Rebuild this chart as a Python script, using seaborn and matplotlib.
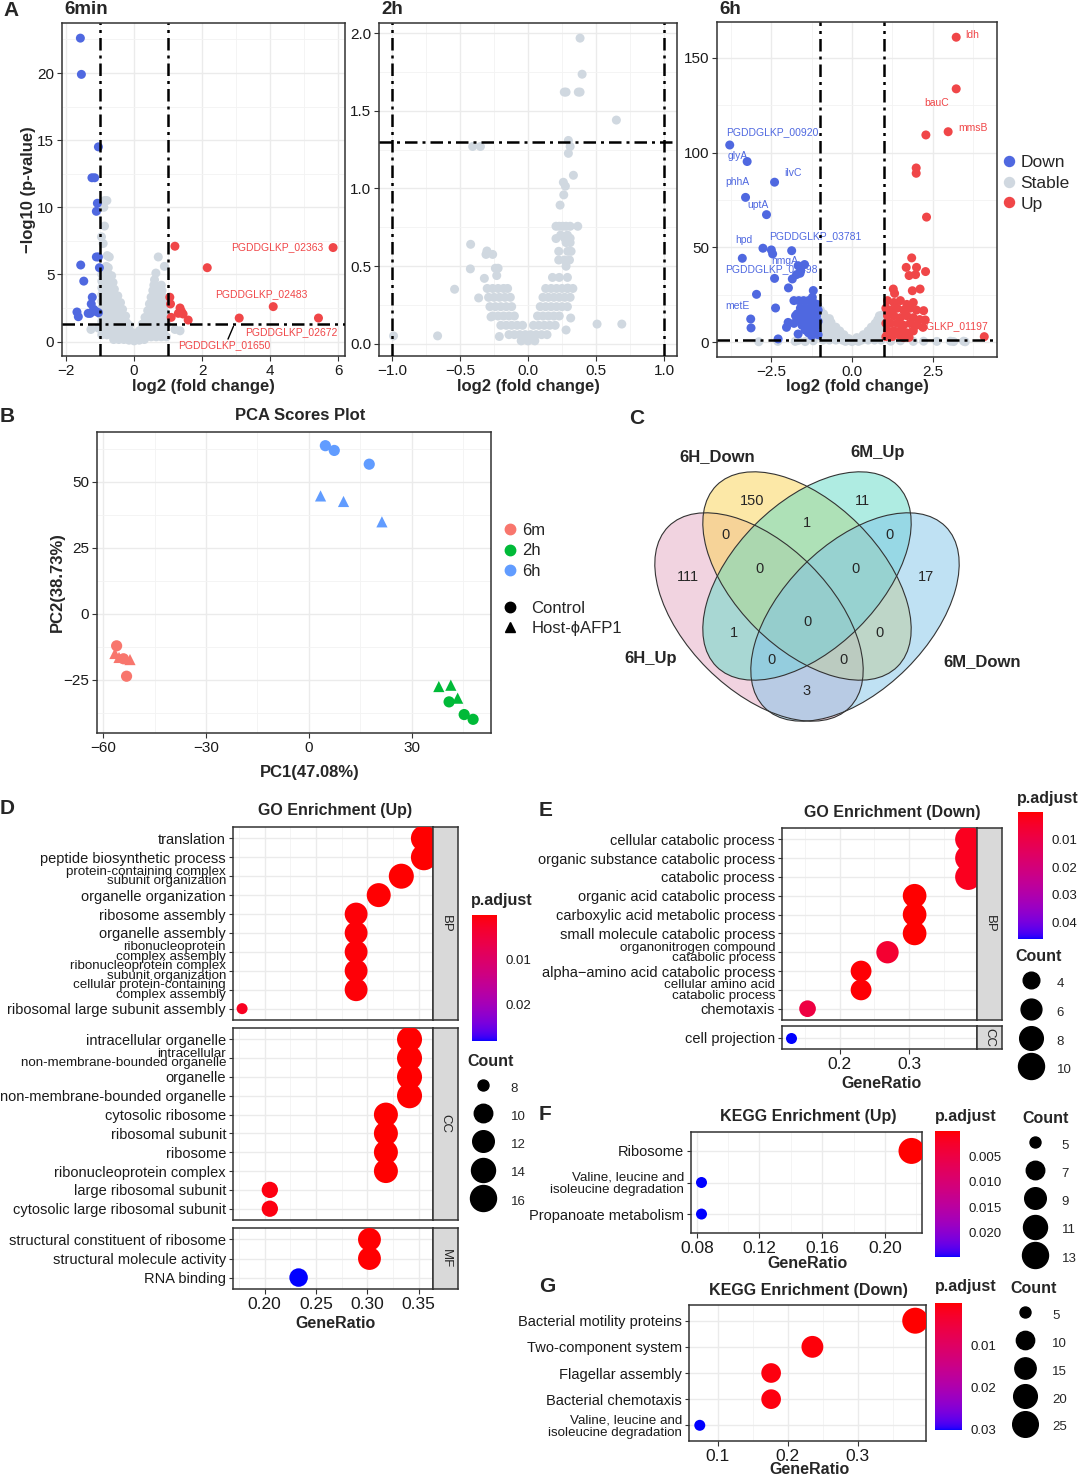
import numpy as np
import pandas as pd
import matplotlib
matplotlib.use("Agg")
import matplotlib.pyplot as plt
from matplotlib.colors import ListedColormap, Normalize
from matplotlib.cm import ScalarMappable
from matplotlib.lines import Line2D
from matplotlib.patches import Ellipse
from matplotlib.ticker import FuncFormatter, MultipleLocator
import seaborn as sns

W, H = 1080, 1477

# ---------------- A: volcano points (log2 fold change, -log10 p) ----------------
min6_down = [(-1.58, 22.6), (-1.55, 19.9), (-1.05, 14.5), (-1.24, 12.2), (-1.16, 12.2),
             (-1.08, 10.3), (-1.11, 9.7), (-1.11, 6.3), (-1.05, 6.3), (-1.57, 5.7),
             (-1.02, 5.5), (-1.48, 4.5), (-1.23, 3.3), (-1.26, 2.8), (-1.19, 2.4),
             (-1.13, 2.25), (-1.68, 2.2), (-1.64, 1.85), (-1.35, 2.1), (-1.29, 2.1),
             (-1.05, 2.15)]
min6_up = [(1.20, 7.1), (2.15, 5.5), (5.85, 7.0), (1.05, 3.3), (1.07, 2.8), (1.35, 2.5),
           (1.39, 2.25), (1.30, 2.1), (1.44, 2.05), (1.09, 1.8), (1.59, 1.6), (3.09, 1.75),
           (4.09, 2.6), (5.42, 1.75)]
min6_stable = [
    (-0.87, 10.5), (-0.80, 10.5), (-0.89, 10.0), (-0.87, 8.6), (-0.96, 7.8), (-0.91, 7.3),
    (-0.79, 6.4), (-0.73, 6.3), (-0.82, 5.6), (-0.76, 5.5),
    (-0.95, 5.0), (-0.85, 5.0), (-0.75, 5.0), (-0.66, 4.9),
    (-0.95, 4.5), (-0.85, 4.5), (-0.75, 4.5), (-0.62, 4.4),
    (-0.95, 4.0), (-0.85, 4.0), (-0.72, 4.0), (-0.58, 3.9),
    (-0.95, 3.5), (-0.85, 3.5), (-0.75, 3.5), (-0.62, 3.5), (-0.48, 3.4),
    (-0.95, 3.0), (-0.85, 3.0), (-0.75, 3.0), (-0.62, 3.0), (-0.50, 3.0), (-0.40, 2.9),
    (-0.95, 2.5), (-0.82, 2.5), (-0.70, 2.5), (-0.58, 2.5), (-0.46, 2.5), (-0.34, 2.4),
    (-0.98, 2.0), (-0.85, 2.0), (-0.72, 2.0), (-0.60, 2.0), (-0.48, 2.0), (-0.36, 2.0), (-0.25, 1.9),
    (-0.95, 1.5), (-0.82, 1.5), (-0.70, 1.5), (-0.58, 1.5), (-0.46, 1.5), (-0.34, 1.5),
    (-0.22, 1.4), (-0.14, 1.2),
    (-1.27, 0.9), (-1.05, 1.0), (-0.92, 1.0), (-0.80, 1.0), (-0.68, 1.0), (-0.55, 1.0),
    (-0.42, 1.0), (-0.30, 1.0), (-0.18, 0.9), (-0.08, 0.7),
    (-0.95, 0.5), (-0.80, 0.5), (-0.65, 0.5), (-0.50, 0.5), (-0.36, 0.5), (-0.22, 0.45),
    (-0.10, 0.35), (-0.03, 0.15),
    (-0.60, 0.15), (-0.45, 0.15), (-0.30, 0.15), (-0.15, 0.1), (0.0, 0.05), (0.15, 0.1), (0.30, 0.15),
    (0.71, 6.3), (0.89, 5.6), (0.64, 5.1), (0.60, 4.6), (0.58, 4.2), (0.80, 4.2),
    (0.55, 3.8), (0.68, 3.8), (0.82, 3.8),
    (0.50, 3.3), (0.62, 3.3), (0.74, 3.3), (0.86, 3.3),
    (0.45, 2.8), (0.57, 2.8), (0.69, 2.8), (0.81, 2.8), (0.93, 2.8),
    (0.40, 2.3), (0.52, 2.3), (0.64, 2.3), (0.76, 2.3), (0.88, 2.3),
    (0.32, 1.8), (0.44, 1.8), (0.56, 1.8), (0.68, 1.8), (0.80, 1.8), (0.92, 1.8),
    (0.24, 1.3), (0.36, 1.3), (0.48, 1.3), (0.60, 1.3), (0.72, 1.3), (0.84, 1.3), (0.96, 1.3),
    (0.15, 0.8), (0.27, 0.8), (0.39, 0.8), (0.51, 0.8), (0.63, 0.8), (0.75, 0.8), (0.87, 0.8),
    (1.20, 0.9), (1.35, 0.8),
    (0.08, 0.35), (0.20, 0.35), (0.35, 0.35), (0.50, 0.35), (0.65, 0.35), (0.80, 0.35), (0.95, 0.35)]

h2_stable = [
    (0.383, 1.967), (0.398, 1.735), (0.267, 1.62), (0.28, 1.62), (0.37, 1.62), (0.383, 1.62),
    (0.65, 1.44), (0.297, 1.309), (-0.407, 1.27), (-0.35, 1.27), (0.31, 1.27), (0.297, 1.226),
    (0.334, 1.085), (0.26, 1.04), (0.275, 1.015), (0.263, 0.959), (0.236, 0.893),
    (0.206, 0.757), (0.23, 0.757), (0.255, 0.757), (0.28, 0.757), (0.31, 0.757), (0.366, 0.757),
    (0.24, 0.70), (0.29, 0.70), (0.27, 0.68), (0.31, 0.68), (0.206, 0.678), (0.28, 0.652),
    (0.31, 0.652), (0.226, 0.596), (0.292, 0.596), (0.317, 0.596), (0.226, 0.54), (0.268, 0.54),
    (0.305, 0.54), (0.28, 0.50), (0.18, 0.428), (0.23, 0.428), (0.29, 0.428), (0.292, 0.359),
    (0.314, 0.167), (0.28, 0.09), (0.508, 0.128), (0.69, 0.128),
    (-0.422, 0.641), (-0.302, 0.598), (-0.309, 0.576), (-0.26, 0.576), (-0.424, 0.483),
    (-0.24, 0.487), (-0.22, 0.487), (-0.23, 0.44), (-0.321, 0.422), (-0.54, 0.352),
    (-0.363, 0.296), (-0.272, 0.174), (-0.211, 0.048), (-0.665, 0.052), (-0.989, 0.052),
    (0.13, 0.357), (0.17, 0.357), (0.21, 0.357), (0.25, 0.357), (0.29, 0.357), (0.33, 0.357),
    (-0.30, 0.357), (-0.26, 0.357), (-0.22, 0.357), (-0.18, 0.357), (-0.15, 0.357),
    (-0.29, 0.30), (-0.25, 0.30), (-0.21, 0.30), (-0.17, 0.30), (-0.13, 0.30),
    (0.11, 0.30), (0.15, 0.30), (0.19, 0.30), (0.23, 0.30), (0.27, 0.30), (0.31, 0.30),
    (-0.28, 0.24), (-0.24, 0.24), (-0.20, 0.24), (-0.16, 0.24), (-0.12, 0.24),
    (0.09, 0.24), (0.13, 0.24), (0.17, 0.24), (0.21, 0.24), (0.25, 0.24), (0.29, 0.24),
    (-0.26, 0.18), (-0.22, 0.18), (-0.18, 0.18), (-0.14, 0.18), (-0.10, 0.18),
    (0.07, 0.18), (0.11, 0.18), (0.15, 0.18), (0.19, 0.18), (0.23, 0.18),
    (-0.20, 0.12), (-0.16, 0.12), (-0.12, 0.12), (-0.08, 0.12), (-0.04, 0.12),
    (0.04, 0.12), (0.08, 0.12), (0.12, 0.12), (0.16, 0.12), (0.20, 0.12),
    (-0.14, 0.06), (-0.10, 0.06), (-0.06, 0.06), (-0.02, 0.06), (0.02, 0.06), (0.06, 0.06),
    (0.10, 0.06), (0.14, 0.06), (-0.05, 0.02), (0.0, 0.02), (0.05, 0.02)]

h6_down = [(-3.79, 104), (-3.25, 95.3), (-2.40, 84.4), (-3.30, 76.4), (-2.65, 67.3),
           (-2.76, 49.6), (-3.40, 44.3), (-2.50, 48.7), (-2.46, 46.6), (-1.87, 48.3),
           (-2.40, 33.7), (-2.96, 25.3), (-2.37, 18.1), (-3.14, 12.3), (-3.13, 7.6),
           (-2.29, 1.8), (-1.67, 40.4), (-1.47, 41.0), (-1.59, 37.8), (-1.72, 35.7),
           (-1.85, 33.4), (-1.61, 36.4), (-1.97, 28.7), (-1.20, 27.3), (-1.23, 23.7),
           (-1.98, 10.5), (-2.03, 7.9), (-1.67, 4.4), (-1.35, 5.0), (-1.80, 22.0),
           (-1.75, 14.0), (-1.80, 10.0),
           (-1.65, 22), (-1.50, 22), (-1.35, 22), (-1.20, 21), (-1.08, 20),
           (-1.60, 18), (-1.45, 18), (-1.30, 18), (-1.15, 18), (-1.05, 17),
           (-1.70, 15), (-1.55, 15), (-1.40, 15), (-1.25, 15), (-1.10, 14),
           (-1.62, 12), (-1.48, 12), (-1.33, 12), (-1.18, 12), (-1.05, 11),
           (-1.55, 9), (-1.40, 9), (-1.25, 9), (-1.10, 8.5),
           (-1.45, 6.5), (-1.30, 6.5), (-1.15, 6.0), (-1.05, 4.0), (-1.25, 3.5)]
h6_up = [(3.23, 160.8), (3.23, 133.6), (2.98, 111.0), (2.29, 109.3), (1.99, 91.9),
         (1.99, 89.1), (2.31, 66.0), (4.10, 3.0), (1.85, 44.5), (1.68, 39.5), (2.00, 39.5),
         (2.28, 37.3), (1.77, 35.2), (1.97, 35.7), (1.28, 28.1), (1.32, 25.8), (1.87, 27.2),
         (2.11, 28.1), (2.22, 16.7), (2.27, 11.8), (2.20, 7.9), (1.77, 2.6),
         (1.10, 22), (1.30, 21), (1.50, 22), (1.70, 20), (1.90, 21),
         (1.05, 18), (1.20, 17), (1.40, 18), (1.60, 17), (1.80, 18), (2.00, 17),
         (1.10, 14), (1.30, 14), (1.50, 13), (1.70, 14), (1.90, 13), (2.10, 12),
         (1.05, 10), (1.20, 10), (1.40, 10), (1.60, 9), (1.80, 10), (2.00, 9),
         (1.10, 6), (1.30, 6), (1.50, 6), (1.70, 5), (1.90, 6),
         (1.05, 3), (1.25, 3), (1.45, 4), (1.60, 2.5)]
h6_stable = [
    (-2.89, 0.3), (-2.30, 0.5), (-1.76, 0.5), (-1.67, 1.0), (-1.45, 0.4), (-1.20, 0.8),
    (1.20, 0.6), (1.50, 0.8), (1.90, 0.5), (2.22, 0.6), (2.63, 0.5), (3.05, 0.6), (3.15, 0.4),
    (3.46, 0.6), (3.51, 0.3),
    (-0.98, 17), (-0.97, 15), (-0.88, 15), (-0.95, 13), (-0.82, 13), (-0.70, 12.5),
    (-0.95, 11), (-0.80, 11), (-0.65, 10.5), (-0.95, 9), (-0.80, 9), (-0.65, 9), (-0.50, 8),
    (-0.95, 7), (-0.80, 7), (-0.65, 7), (-0.50, 6.5), (-0.38, 6),
    (-0.95, 5), (-0.80, 5), (-0.65, 5), (-0.50, 5), (-0.37, 4.5), (-0.25, 4),
    (-0.95, 3), (-0.80, 3), (-0.65, 3), (-0.50, 3), (-0.35, 3), (-0.20, 2.5), (-0.10, 2),
    (-0.9, 1.2), (-0.7, 1.2), (-0.5, 1.2), (-0.3, 1.2), (-0.1, 1.0), (0.1, 1.0), (0.3, 1.2),
    (0.5, 1.2), (0.7, 1.2), (0.9, 1.2), (0.0, 0.4), (-0.2, 0.5), (0.2, 0.5),
    (0.85, 14), (0.95, 14.5), (0.80, 12), (0.92, 12), (0.72, 10), (0.85, 10), (0.97, 10),
    (0.60, 8), (0.75, 8), (0.90, 8), (0.50, 6), (0.65, 6), (0.80, 6), (0.95, 6),
    (0.35, 4), (0.50, 4), (0.65, 4), (0.80, 4), (0.95, 4),
    (0.15, 2.5), (0.30, 2.5), (0.45, 2.5), (0.60, 2.5), (0.75, 2.5), (0.90, 2.5)]

# ---------------- B: PCA scores ----------------
pca_time = ["6m"] * 6 + ["2h"] * 6 + ["6h"] * 6
pca_group = (["Control"] * 3 + ["Host-\u03d5AFP1"] * 3) * 3
pca_pc1 = [-56.1, -54.1, -53.2, -56.6, -55.4, -52.2,
           40.9, 45.3, 47.9, 37.9, 41.4, 43.4,
           4.8, 7.4, 17.6, 3.4, 10.1, 21.3]
pca_pc2 = [-12.1, -17.0, -23.6, -15.0, -16.5, -17.3,
           -33.3, -38.1, -39.9, -27.5, -27.0, -31.9,
           63.6, 61.8, 56.6, 44.6, 42.5, 34.8]

# ---------------- C: Venn counts (membership 6H_Up, 6H_Down, 6M_Up, 6M_Down) ----------------
venn_sets = ["6H_Up", "6H_Down", "6M_Up", "6M_Down"]
venn_counts = {"1000": 111, "0100": 150, "0010": 11, "0001": 17,
               "1100": 0, "0110": 1, "0011": 0, "1001": 3, "1010": 1, "0101": 0,
               "1110": 0, "0111": 0, "1011": 0, "1101": 0, "1111": 0}

# ---------------- D: GO enrichment (Up) ----------------
go_up_terms = ["translation", "peptide biosynthetic process",
               "protein-containing complex\nsubunit organization", "organelle organization",
               "ribosome assembly", "organelle assembly", "ribonucleoprotein\ncomplex assembly",
               "ribonucleoprotein complex\nsubunit organization",
               "cellular protein-containing\ncomplex assembly", "ribosomal large subunit assembly",
               "intracellular organelle", "intracellular\nnon-membrane-bounded organelle",
               "organelle", "non-membrane-bounded organelle", "cytosolic ribosome",
               "ribosomal subunit", "ribosome", "ribonucleoprotein complex",
               "large ribosomal subunit", "cytosolic large ribosomal subunit",
               "structural constituent of ribosome", "structural molecule activity", "RNA binding"]
go_up_ont = ["BP"] * 10 + ["CC"] * 10 + ["MF"] * 3
go_up_ratio = [0.355, 0.355, 0.333, 0.311, 0.289, 0.289, 0.289, 0.289, 0.289, 0.178,
               0.341, 0.341, 0.341, 0.341, 0.318, 0.318, 0.318, 0.318, 0.205, 0.205,
               0.302, 0.302, 0.233]
go_up_count = [16, 16, 15, 14, 13, 13, 13, 13, 13, 8,
               15, 15, 15, 15, 14, 14, 14, 14, 9, 9,
               13, 13, 10]
go_up_padj = [0.00001, 0.00001, 0.0001, 0.0002, 0.0004, 0.0004, 0.0004, 0.0004, 0.0004, 0.002,
              0.00002, 0.00002, 0.00002, 0.00002, 0.00005, 0.00005, 0.00005, 0.00005, 0.0008, 0.0008,
              0.0002, 0.0002, 0.028]

# ---------------- E: GO enrichment (Down) ----------------
go_dn_terms = ["cellular catabolic process", "organic substance catabolic process",
               "catabolic process", "organic acid catabolic process",
               "carboxylic acid metabolic process", "small molecule catabolic process",
               "organonitrogen compound\ncatabolic process",
               "alpha\u2212amino acid catabolic process",
               "cellular amino acid\ncatabolic process", "chemotaxis", "cell projection"]
go_dn_ont = ["BP"] * 10 + ["CC"]
go_dn_ratio = [0.385, 0.385, 0.385, 0.308, 0.308, 0.308, 0.269, 0.231, 0.231, 0.154, 0.130]
go_dn_count = [10, 10, 10, 8, 8, 8, 7, 6, 6, 4, 3]
go_dn_padj = [0.003, 0.003, 0.003, 0.0001, 0.0001, 0.0001, 0.006, 0.0005, 0.0005, 0.009, 0.046]

# ---------------- F / G: KEGG enrichment ----------------
kegg_up_terms = ["Ribosome", "Valine, leucine and\nisoleucine degradation", "Propanoate metabolism"]
kegg_up_ratio = [0.217, 0.083, 0.083]
kegg_up_count = [13, 5, 5]
kegg_up_padj = [0.0001, 0.0247, 0.0247]

kegg_dn_terms = ["Bacterial motility proteins", "Two-component system", "Flagellar assembly",
                 "Bacterial chemotaxis", "Valine, leucine and\nisoleucine degradation"]
kegg_dn_ratio = [0.382, 0.235, 0.176, 0.176, 0.074]
kegg_dn_count = [26, 16, 12, 12, 5]
kegg_dn_padj = [0.00001, 0.0005, 0.0008, 0.0008, 0.0302]

# ---------------- styles ----------------
volcano_colors = {"Down": "#4F68E0", "Stable": "#D0D8E0", "Up": "#F04648"}
time_colors = {"6m": "#F8766D", "2h": "#00BA38", "6h": "#619CFF"}
venn_fills = ["#E5A9C3", "#FBD351", "#61DBC7", "#81C5E9"]

sns.set_theme(style="white")
plt.rcParams["font.family"] = ["Liberation Sans", "DejaVu Sans"]
plt.rcParams["axes.unicode_minus"] = True

fig = plt.figure(figsize=(W / 100, H / 100), dpi=100)


def px_axes(l, t, r, b):
    return fig.add_axes([l / W, 1 - b / H, (r - l) / W, (b - t) / H])


def fx(x):
    return x / W


def fy(y):
    return 1 - y / H


def minus(fmt):
    return FuncFormatter(lambda v, p: fmt.format(v).replace("-", "\u2212"))


def bw(ax, xticks, yticks, xminor, yminor, xfmt="{:g}", yfmt="{:g}", size=11):
    """theme_bw-like look"""
    ax.set_facecolor("white")
    for sp in ax.spines.values():
        sp.set_visible(True)
        sp.set_color("#333333")
        sp.set_linewidth(1.1)
    ax.set_xticks(xticks)
    ax.set_yticks(yticks)
    if xminor:
        ax.xaxis.set_minor_locator(MultipleLocator(xminor))
    if yminor:
        ax.yaxis.set_minor_locator(MultipleLocator(yminor))
    ax.xaxis.set_major_formatter(minus(xfmt))
    ax.yaxis.set_major_formatter(minus(yfmt))
    ax.grid(True, which="major", color="#EBEBEB", lw=1.0)
    ax.grid(True, which="minor", color="#F3F3F3", lw=0.6)
    ax.set_axisbelow(True)
    ax.tick_params(which="major", direction="out", length=3.5, width=0.8, color="#333333",
                   labelsize=size, labelcolor="#1A1A1A", pad=2, bottom=True, left=True)
    ax.tick_params(which="minor", length=0)
    ax.set_xlabel("")
    ax.set_ylabel("")


# red -> blue in CIELAB, like ggplot's gradient
_M = np.array([[0.4124564, 0.3575761, 0.1804375],
               [0.2126729, 0.7151522, 0.0721750],
               [0.0193339, 0.1191920, 0.9503041]])
_WHITE = np.array([0.95047, 1.0, 1.08883])


def to_lab(rgb):
    c = np.asarray(rgb, float)
    lin = np.where(c <= 0.04045, c / 12.92, ((c + 0.055) / 1.055) ** 2.4)
    xyz = _M @ lin / _WHITE
    f = np.where(xyz > 0.008856, np.cbrt(xyz), 7.787 * xyz + 16 / 116)
    return np.array([116 * f[1] - 16, 500 * (f[0] - f[1]), 200 * (f[1] - f[2])])


def from_lab(lab):
    fyy = (lab[0] + 16) / 116
    f = np.array([fyy + lab[1] / 500, fyy, fyy - lab[2] / 200])
    xyz = np.where(f ** 3 > 0.008856, f ** 3, (f - 16 / 116) / 7.787) * _WHITE
    lin = np.clip(np.linalg.solve(_M, xyz), 0, 1)
    return np.clip(np.where(lin <= 0.0031308, 12.92 * lin, 1.055 * lin ** (1 / 2.4) - 0.055), 0, 1)


lab_r, lab_b = to_lab([1, 0, 0]), to_lab([0, 0, 1])
padj_cmap = ListedColormap([from_lab(lab_r + (lab_b - lab_r) * t) for t in np.linspace(0, 1, 256)])


def dot_diam(c, lo, hi, dmin=11.0, dmax=26.0):
    return dmin + (dmax - dmin) * np.sqrt((c - lo) / (hi - lo))


def panel_letter(x, y, s):
    fig.text(fx(x), fy(y), s, fontsize=15, fontweight="bold", ha="left", va="center")


# ================= A: volcano plots =================
def volcano(rect, down, stable, up, xticks, yticks, xminor, yminor, xfmt, yfmt, title):
    ax = px_axes(*rect)
    df = pd.concat([
        pd.DataFrame(stable, columns=["lfc", "nlp"]).assign(group="Stable"),
        pd.DataFrame(down, columns=["lfc", "nlp"]).assign(group="Down"),
        pd.DataFrame(up, columns=["lfc", "nlp"]).assign(group="Up")], ignore_index=True)
    sns.scatterplot(data=df, x="lfc", y="nlp", hue="group", palette=volcano_colors, s=42,
                    linewidth=0, legend=False, ax=ax, zorder=3)
    xr = df.lfc.max() - df.lfc.min()
    yr = df.nlp.max() - df.nlp.min()
    ax.set_xlim(df.lfc.min() - 0.05 * xr, df.lfc.max() + 0.05 * xr)
    ax.set_ylim(df.nlp.min() - 0.05 * yr, df.nlp.max() + 0.05 * yr)
    dash = (0, (5, 2, 1.2, 2))
    for v in (-1, 1):
        ax.axvline(v, color="black", lw=1.8, ls=dash, zorder=4)
    ax.axhline(-np.log10(0.05), color="black", lw=1.8, ls=dash, zorder=4)
    bw(ax, xticks, yticks, xminor, yminor, xfmt, yfmt)
    fig.text(fx(rect[0] + 2), fy(9), title, fontsize=13.5, fontweight="bold", ha="left", va="center")
    fig.text(fx((rect[0] + rect[2]) / 2), fy(386), "log2 (fold change)", fontsize=12,
             fontweight="bold", ha="center", va="center")
    return ax


ax1 = volcano((62, 23, 345, 356), min6_down, min6_stable, min6_up, [-2, 0, 2, 4, 6],
              [0, 5, 10, 15, 20], 1, 2.5, "{:g}", "{:g}", "6min")
ax1.set_xlim(-2.12, 6.2)
lab_kw = dict(fontsize=7.5, color=volcano_colors["Up"], zorder=2.5)
ax1.text(5.57, 7.0, "PGDDGLKP_02363", ha="right", va="center", **lab_kw)
ax1.text(3.73, 3.56, "PGDDGLKP_02483", ha="center", va="center", **lab_kw)
ax1.text(4.63, 0.68, "PGDDGLKP_02672", ha="center", va="center", **lab_kw)
ax1.text(2.64, -0.25, "PGDDGLKP_01650", ha="center", va="center", **lab_kw)
ax1.plot([2.92, 2.76], [1.13, 0.18], color="black", lw=1, zorder=4)
fig.text(fx(28), fy(190), "\u2212log10 (p-value)", fontsize=12, fontweight="bold",
         rotation=90, ha="center", va="center")

ax2 = volcano((379, 23, 677, 356), [], h2_stable, [], [-1.0, -0.5, 0.0, 0.5, 1.0],
              [0.0, 0.5, 1.0, 1.5, 2.0], 0.25, 0.25, "{:.1f}", "{:.1f}", "2h")
ax2.set_xlim(-1.096, 1.096)

ax3 = volcano((717, 22, 997, 357), h6_down, h6_stable, h6_up, [-2.5, 0.0, 2.5],
              [0, 50, 100, 150], 1.25, 25, "{:.1f}", "{:g}", "6h")
dn_kw = dict(fontsize=7.5, color=volcano_colors["Down"], ha="center", va="center", zorder=2.5)
up_kw = dict(fontsize=7.5, color=volcano_colors["Up"], ha="center", va="center", zorder=2.5)
for name, x, y in [("PGDDGLKP_00920", -2.48, 111), ("glyA", -3.54, 98.4), ("phhA", -3.54, 84.7),
                   ("ilvC", -1.83, 89.3), ("uptA", -2.91, 72.4), ("hpd", -3.36, 54.0),
                   ("PGDDGLKP_03781", -1.14, 56.2), ("hmgA", -2.09, 43.1),
                   ("PGDDGLKP_01498", -2.5, 38.7), ("metE", -3.54, 19.3)]:
    ax3.text(x, y, name, **dn_kw)
for name, x, y in [("ldh", 3.74, 162), ("bauC", 2.61, 126), ("mmsB", 3.74, 113.2),
                   ("PGDDGLKP_01197", 2.80, 8.3)]:
    ax3.text(x, y, name, **up_kw)

fig.legend(handles=[Line2D([0], [0], marker="o", ls="", color=volcano_colors[k], markersize=7.2)
                    for k in ["Down", "Stable", "Up"]],
           labels=["Down", "Stable", "Up"], loc="upper left", bbox_to_anchor=(fx(1002), fy(155)),
           frameon=False, fontsize=12.5, handlelength=0.8, handletextpad=0.25, labelspacing=0.32,
           borderpad=0, borderaxespad=0)
panel_letter(3, 10, "A")

# ================= B: PCA =================
pca = pd.DataFrame({"PC1": pca_pc1, "PC2": pca_pc2, "time": pca_time, "group": pca_group})
axb = px_axes(97, 432, 491, 733)
sns.scatterplot(data=pca, x="PC1", y="PC2", hue="time", style="group", palette=time_colors,
                markers={"Control": "o", "Host-\u03d5AFP1": "^"}, s=65, linewidth=0,
                legend=False, ax=axb, zorder=3)
xr = pca.PC1.max() - pca.PC1.min()
yr = pca.PC2.max() - pca.PC2.min()
axb.set_xlim(pca.PC1.min() - 0.05 * xr, pca.PC1.max() + 0.05 * xr)
axb.set_ylim(pca.PC2.min() - 0.05 * yr, pca.PC2.max() + 0.05 * yr)
bw(axb, [-60, -30, 0, 30], [-25, 0, 25, 50], 15, 12.5)
fig.text(fx(300), fy(416), "PCA Scores Plot", fontsize=12, fontweight="bold", ha="center", va="center")
fig.text(fx(310), fy(772), "PC1(47.08%)", fontsize=12, fontweight="bold", ha="center", va="center")
fig.text(fx(57), fy(582), "PC2(38.73%)", fontsize=12, fontweight="bold", rotation=90,
         ha="center", va="center")
fig.legend(handles=[Line2D([0], [0], marker="o", ls="", color=time_colors[t], markersize=7.5)
                    for t in time_colors],
           labels=list(time_colors), loc="upper left", bbox_to_anchor=(fx(503), fy(523)),
           frameon=False, fontsize=12, handlelength=0.8, handletextpad=0.35, labelspacing=0.33,
           borderpad=0, borderaxespad=0)
fig.legend(handles=[Line2D([0], [0], marker=m, ls="", color="black", markersize=7.5)
                    for m in ["o", "^"]],
           labels=["Control", "Host-\u03d5AFP1"], loc="upper left", bbox_to_anchor=(fx(503), fy(601)),
           frameon=False, fontsize=12, handlelength=0.8, handletextpad=0.9, labelspacing=0.27,
           borderpad=0, borderaxespad=0)
panel_letter(0, 416, "B")

# ================= C: Venn =================
vax = px_axes(630, 425, 1075, 740)
vax.set_xlim(630, 1075)
vax.set_ylim(740, 425)
vax.axis("off")
venn_centers = [(759, 617), (807, 576), (807, 576), (855, 617)]
venn_angles = [45, 45, -45, -45]
va_, vb_ = 128, 73
for (cx, cy), ang, col in zip(venn_centers, venn_angles, venn_fills):
    vax.add_patch(Ellipse((cx, cy), 2 * va_, 2 * vb_, angle=ang, facecolor=col, alpha=0.5,
                          edgecolor="none"))
for (cx, cy), ang in zip(venn_centers, venn_angles):
    vax.add_patch(Ellipse((cx, cy), 2 * va_, 2 * vb_, angle=ang, facecolor="none",
                          edgecolor="#333333", lw=0.8))
gx, gy = np.meshgrid(np.arange(640, 980, 1.0), np.arange(460, 730, 1.0))
rs = []
for (cx, cy), ang in zip(venn_centers, venn_angles):
    t = np.deg2rad(ang)
    dx, dy = gx - cx, gy - cy
    u = dx * np.cos(t) + dy * np.sin(t)
    v = -dx * np.sin(t) + dy * np.cos(t)
    rs.append(np.sqrt((u / va_) ** 2 + (v / vb_) ** 2))
rs = np.array(rs)
inside = rs < 1
margin = (np.abs(rs - 1) * vb_).min(axis=0)
for key, n in venn_counts.items():
    want = np.array([c == "1" for c in key])[:, None, None]
    mask = np.all(inside == want, axis=0)
    idx = np.argmax(np.where(mask, margin, -1))
    vax.text(gx.flat[idx], gy.flat[idx], str(n), fontsize=10.5, ha="center", va="center")
for name, x, y in zip(venn_sets, [651, 717, 878, 982], [659, 457, 453, 662]):
    vax.text(x, y, name, fontsize=12, fontweight="bold", ha="center", va="center")
panel_letter(629, 418, "C")


# ================= D-G: enrichment dot plots =================
def dotplot(terms, ont, ratio, count, padj, left, right, rows, strip, xticks, xminor, xfmt,
            wrap_spacing):
    df = pd.DataFrame({"term": terms, "ont": ont, "ratio": ratio, "count": count, "padj": padj})
    span = df.ratio.max() - df.ratio.min()
    xlim = (df.ratio.min() - 0.05 * span, df.ratio.max() + 0.05 * span)
    norm = Normalize(df.padj.min(), df.padj.max())
    lo, hi = df["count"].min(), df["count"].max()
    sizes = {c: (dot_diam(c, lo, hi) * 0.72) ** 2 for c in df["count"].unique()}
    names = list(rows)
    for i, name in enumerate(names):
        top, bottom = rows[name]
        sub = df[df.ont == name].reset_index(drop=True)
        sub["pos"] = np.arange(len(sub))
        ax = px_axes(left, top, right, bottom)
        sns.scatterplot(data=sub, x="ratio", y="pos", hue="padj", palette=padj_cmap, hue_norm=norm,
                        size="count", sizes=sizes, linewidth=0, legend=False, ax=ax, zorder=3)
        ax.set_xlim(*xlim)
        bw(ax, xticks, list(sub["pos"]), xminor, None, xfmt, "{:g}", size=12.5)
        ax.set_ylim(len(sub) - 1 + 0.6, -0.6)
        ax.set_yticklabels(sub["term"])
        ax.tick_params(axis="y", labelsize=10.5, length=3, pad=2)
        for lab in ax.get_yticklabels():
            if "\n" in lab.get_text():
                lab.set_fontsize(9.6)
                lab.set_linespacing(wrap_spacing)
        if i < len(names) - 1:
            ax.tick_params(axis="x", labelbottom=False, length=0)
        if strip:
            sax = px_axes(right, top, strip, bottom)
            sax.set_facecolor("#D9D9D9")
            sax.set_xticks([])
            sax.set_yticks([])
            for sp in sax.spines.values():
                sp.set_visible(True)
                sp.set_color("#333333")
                sp.set_linewidth(1.1)
            sax.text(0.5, 0.5, name, rotation=-90, ha="center", va="center", fontsize=9.5,
                     transform=sax.transAxes)
    return norm, lo, hi


def padj_bar(rect, norm, ticks, fmt, title_xy):
    cax = px_axes(*rect)
    cb = fig.colorbar(ScalarMappable(norm=norm, cmap=padj_cmap), cax=cax)
    cb.outline.set_visible(False)
    cax.invert_yaxis()
    cb.set_ticks(ticks)
    cb.set_ticklabels([fmt.format(t) for t in ticks])
    cax.tick_params(direction="in", color="white", length=4, width=1, left=True, right=True,
                    labelsize=9.5, pad=6, labelcolor="#1A1A1A")
    fig.text(fx(title_xy[0]), fy(title_xy[1]), "p.adjust", fontsize=11.5, fontweight="bold",
             ha="left", va="center")


def size_legend(breaks, lo, hi, x, y, hh, hl, tp):
    handles = [Line2D([0], [0], marker="o", ls="", color="black",
                      markersize=dot_diam(b, lo, hi) * 0.72) for b in breaks]
    leg = fig.legend(handles=handles, labels=[str(b) for b in breaks], title="Count",
                     loc="upper left", bbox_to_anchor=(fx(x), fy(y)), frameon=False, fontsize=9.5,
                     title_fontproperties={"weight": "bold", "size": 11.5}, handleheight=hh,
                     handlelength=hl, handletextpad=tp, labelspacing=0.7, borderpad=0,
                     borderaxespad=0)
    leg._legend_box.align = "left"


def title_at(x, y, s):
    fig.text(fx(x), fy(y), s, fontsize=11.5, fontweight="bold", ha="center", va="center")


# D
norm, lo, hi = dotplot(go_up_terms, go_up_ont, go_up_ratio, go_up_count, go_up_padj, 233, 433,
                       {"BP": (827, 1020), "CC": (1028, 1220), "MF": (1228, 1289)}, 458,
                       [0.20, 0.25, 0.30, 0.35], 0.025, "{:.2f}", 0.72)
padj_bar((472, 915, 497, 1041), norm, [0.01, 0.02], "{:.2f}", (471, 900))
size_legend([8, 10, 12, 14, 16], lo, hi, 467, 1054, 1.83, 2.4, 0.9)
title_at(335, 810, "GO Enrichment (Up)")
title_at(335, 1324, "GeneRatio")
panel_letter(0, 808, "D")

# E
norm, lo, hi = dotplot(go_dn_terms, go_dn_ont, go_dn_ratio, go_dn_count, go_dn_padj, 782, 977,
                       {"BP": (828, 1020), "CC": (1026, 1049)}, 1002,
                       [0.2, 0.3], 0.05, "{:.1f}", 0.85)
padj_bar((1018, 812, 1043, 939), norm, [0.01, 0.02, 0.03, 0.04], "{:.2f}", (1017, 798))
size_legend([4, 6, 8, 10], lo, hi, 1015, 949, 1.89, 2.4, 0.75)
title_at(892, 813, "GO Enrichment (Down)")
title_at(882, 1084, "GeneRatio")
panel_letter(539, 810, "E")

# F
norm, lo, hi = dotplot(kegg_up_terms, ["KEGG"] * 3, kegg_up_ratio, kegg_up_count, kegg_up_padj,
                       691, 922, {"KEGG": (1132, 1233)}, None,
                       [0.08, 0.12, 0.16, 0.20], 0.02, "{:.2f}", 1.0)
padj_bar((935, 1131, 960, 1257), norm, [0.005, 0.010, 0.015, 0.020], "{:.3f}", (935, 1117))
size_legend([5, 7, 9, 11, 13], lo, hi, 1022, 1111, 1.83, 2.0, 1.0)
title_at(808, 1117, "KEGG Enrichment (Up)")
title_at(808, 1263, "GeneRatio")
panel_letter(539, 1115, "F")

# G
norm, lo, hi = dotplot(kegg_dn_terms, ["KEGG"] * 5, kegg_dn_ratio, kegg_dn_count, kegg_dn_padj,
                       689, 926, {"KEGG": (1305, 1441)}, None,
                       [0.1, 0.2, 0.3], 0.05, "{:.1f}", 1.0)
padj_bar((935, 1303, 962, 1430), norm, [0.01, 0.02, 0.03], "{:.2f}", (935, 1287))
size_legend([5, 10, 15, 20, 25], lo, hi, 1010, 1281, 1.8, 2.3, 0.9)
title_at(808, 1290, "KEGG Enrichment (Down)")
title_at(809, 1469, "GeneRatio")
panel_letter(539, 1287, "G")

fig.savefig("out.png", dpi=100)
